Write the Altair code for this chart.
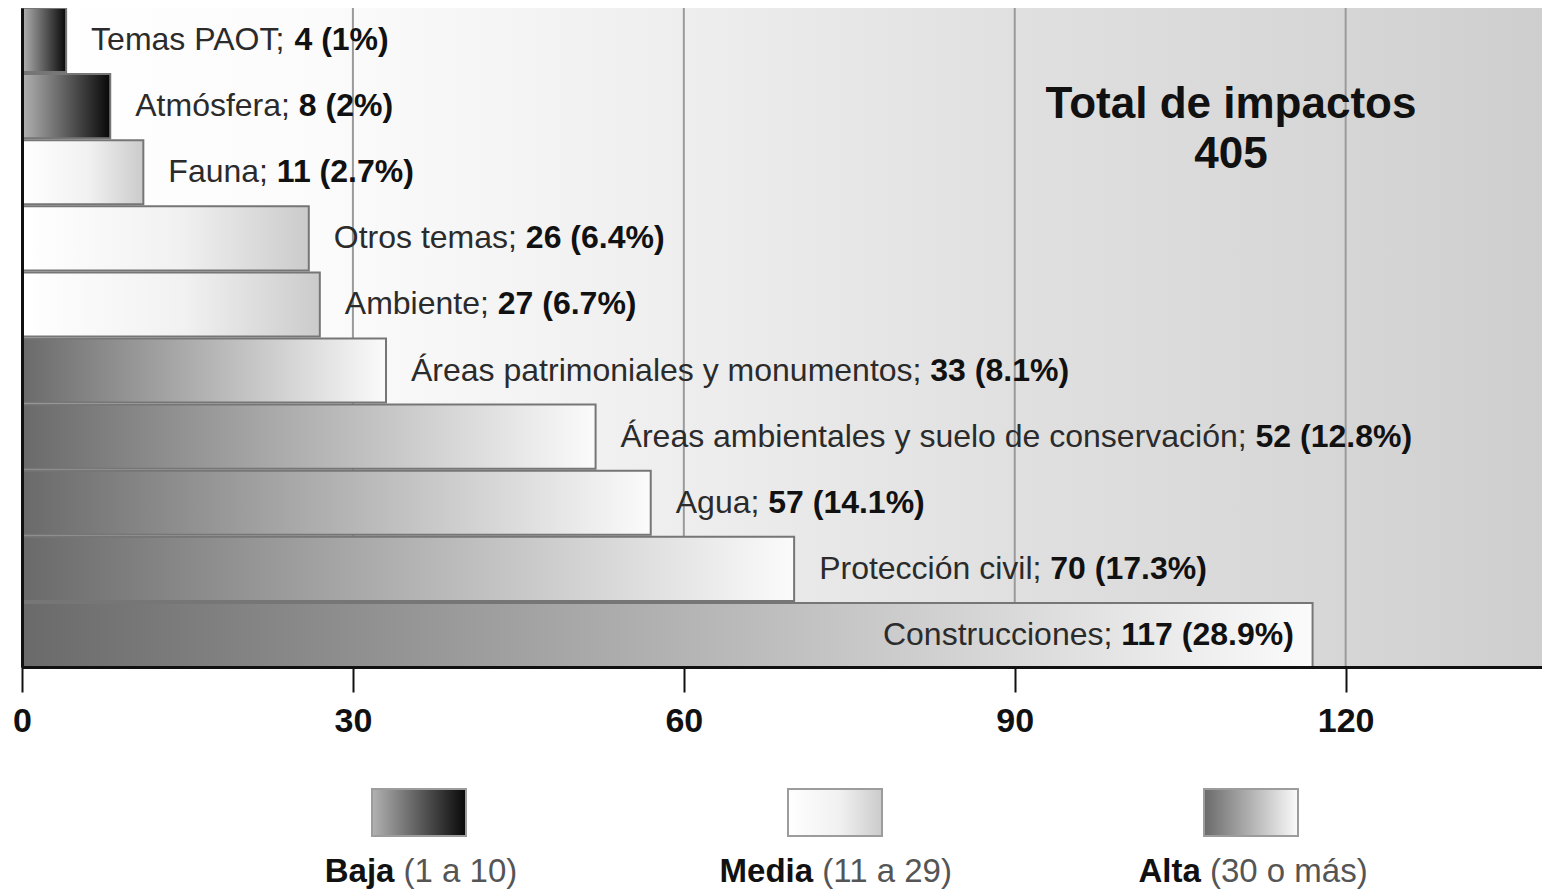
import altair as alt
import pandas as pd

# ---------------- data ----------------
temas = ["Temas PAOT", "Atmósfera", "Fauna", "Otros temas", "Ambiente",
         "Áreas patrimoniales y monumentos",
         "Áreas ambientales y suelo de conservación",
         "Agua", "Protección civil", "Construcciones"]
impactos = [4, 8, 11, 26, 27, 33, 52, 57, 70, 117]
porcentajes = ["1%", "2%", "2.7%", "6.4%", "6.7%", "8.1%", "12.8%", "14.1%", "17.3%", "28.9%"]

niveles = ["Baja", "Media", "Alta"]
rangos = ["(1 a 10)", "(11 a 29)", "(30 o más)"]
minimos = [1, 11, 30]

ticks = [0, 30, 60, 90, 120]

# ---------------- layout / style ----------------
W, H = 1520, 659
XMAX = 137.8
PPU = W / XMAX
FONT = "Liberation Sans"
FS = 32
GAP = 25
INSET = 17

REG = {" ": 278, ";": 278, "(": 333, ")": 333, "%": 889, ".": 278,
       "a": 556, "b": 556, "c": 500, "d": 556, "e": 556, "f": 278, "g": 556, "h": 556,
       "i": 222, "j": 222, "k": 500, "l": 222, "m": 833, "n": 556, "o": 556, "p": 556,
       "q": 556, "r": 333, "s": 500, "t": 278, "u": 556, "v": 500, "w": 722, "x": 500,
       "y": 500, "z": 500, "á": 556, "ó": 556, "í": 222,
       "A": 667, "Á": 667, "C": 722, "E": 667, "F": 611, "M": 833, "O": 778, "P": 667, "T": 611}
for d in "0123456789":
    REG[d] = 556
BOLD = {" ": 278, "(": 333, ")": 333, "%": 889, ".": 278,
        "a": 556, "b": 611, "c": 556, "d": 611, "e": 556, "i": 278, "j": 278, "l": 278,
        "t": 333, "A": 722, "B": 722, "M": 833}
for d in "0123456789":
    BOLD[d] = 556
KERN = {("T", "e"): -111, ("P", "A"): -92, ("A", "T"): -74, ("T", ";"): -55}


def tw(s, table, fs):
    w = sum(table.get(c, 556) for c in s)
    w += sum(KERN.get((a, b), 0) for a, b in zip(s, s[1:]))
    return w / 1000.0 * fs


def nivel_de(v):
    out = niveles[0]
    for n, m in zip(niveles, minimos):
        if v >= m:
            out = n
    return out


rows = []
for t, v, p in zip(temas, impactos, porcentajes):
    reg = f"{t};"
    bold = f"{v} ({p})"
    rw = tw(reg + " ", REG, FS)
    bw = tw(bold, BOLD, FS)
    inside = v * PPU + GAP + rw + bw > W
    if inside:
        dxr, dxb = -INSET - bw - rw, -INSET - bw
    else:
        dxr, dxb = GAP, GAP + rw
    rows.append(dict(tema=t, valor=v, nivel=nivel_de(v), reg=reg, bold=bold, dxr=dxr, dxb=dxb))
df = pd.DataFrame(rows)


def grad(stops):
    return alt.LinearGradient(gradient="linear", x1=0, x2=1, y1=0, y2=0,
                              stops=[alt.GradientStop(color=c, offset=o) for o, c in stops])


GRAD = {
    "Baja": grad([(0, "#b2b2b2"), (1, "#080808")]),
    "Media": grad([(0, "#ffffff"), (0.55, "#f1f1f1"), (1, "#cbcbcb")]),
    "Alta": grad([(0, "#6a6a6a"), (0.5, "#b2b2b2"), (1, "#fbfbfb")]),
}
BG = grad([(0, "#ffffff"), (0.2, "#fbfbfb"), (0.45, "#ededed"), (0.65, "#e0e0e0"),
           (0.87, "#d6d6d6"), (1, "#cecece")])

xs = alt.Scale(domain=[0, XMAX], nice=False, zero=True)
ys = alt.Scale(domain=temas, paddingInner=0.03, paddingOuter=0)

xaxis = alt.Axis(values=ticks, title=None, grid=False, domainColor="#111111", domainWidth=3,
                 tickColor="#111111", tickWidth=2, tickSize=25, labelFont=FONT, labelFontSize=34,
                 labelFontWeight="bold", labelColor="#111111", labelPadding=12, labelFlush=False,
                 labelOverlap=False, zindex=1)
yaxis = alt.Axis(labels=False, ticks=False, title=None, grid=False, domainColor="#111111",
                 domainWidth=3, zindex=1)

X = alt.X("valor:Q", scale=xs, axis=xaxis, title=None)
Y = alt.Y("tema:N", scale=ys, axis=yaxis, title=None)

layers = []

bg = alt.Chart(pd.DataFrame({"a": [0]})).mark_rect(fill=BG).encode(
    x=alt.value(0), x2=alt.value(W), y=alt.value(0), y2=alt.value(H))
layers.append(bg)

grid = alt.Chart(pd.DataFrame({"valor": ticks[1:]})).mark_rule(color="#9a9a9a", strokeWidth=2).encode(
    x=X)
layers.append(grid)

for n in niveles:
    bars = alt.Chart(df).transform_filter(alt.datum.nivel == n).mark_bar(
        fill=GRAD[n], stroke="#767676", strokeWidth=2).encode(x=X, y=Y)
    layers.append(bars)

reg_text = alt.Chart(df).mark_text(align="left", baseline="middle", font=FONT, fontSize=FS,
                                   color="#2b2b2b", dx={"expr": "datum.dxr"}).encode(
    x=X, y=Y, text="reg:N")
bold_text = alt.Chart(df).mark_text(align="left", baseline="middle", font=FONT, fontSize=FS,
                                    fontWeight="bold", color="#111111", dx={"expr": "datum.dxb"}).encode(
    x=X, y=Y, text="bold:N")
layers += [reg_text, bold_text]

total = alt.Chart(pd.DataFrame({"t": [f"Total de impactos\n{sum(impactos)}"]})).mark_text(
    font="Liberation Sans", fontSize=44, fontWeight="bold", lineBreak="\n", lineHeight=50,
    align="center", baseline="top", color="#111111").encode(
    x=alt.value(1209), y=alt.value(75), text="t:N")
layers.append(total)

# legend (drawn below the plot area)
LFS = 33
for i, (n, r) in enumerate(zip(niveles, rangos)):
    cx = 397 + 416 * i
    sw = alt.Chart(pd.DataFrame({"n": [n]})).mark_rect(
        fill=GRAD[n], stroke="#9c9c9c", strokeWidth=2).encode(
        x=alt.value(cx - 47), x2=alt.value(cx + 47), y=alt.value(781), y2=alt.value(828))
    bw = tw(n + " ", BOLD, LFS)
    rw = tw(r, REG, LFS)
    start = cx + 2 - (bw + rw) / 2
    lb = alt.Chart(pd.DataFrame({"t": [n]})).mark_text(
        font=FONT, fontSize=LFS, fontWeight="bold", align="left", baseline="alphabetic",
        color="#111111").encode(x=alt.value(start), y=alt.value(874), text="t:N")
    lr = alt.Chart(pd.DataFrame({"t": [r]})).mark_text(
        font=FONT, fontSize=LFS, align="left", baseline="alphabetic",
        color="#555555").encode(x=alt.value(start + bw), y=alt.value(874), text="t:N")
    layers += [sw, lb, lr]

chart = alt.layer(*layers).properties(
    width=W, height=H,
    autosize=alt.AutoSizeParams(type="none"),
    padding={"left": 14, "top": 0, "right": 0, "bottom": 224},
    background="white",
).configure_view(strokeWidth=0)

chart.save("out.html", embed_options={"renderer": "svg", "actions": False})
